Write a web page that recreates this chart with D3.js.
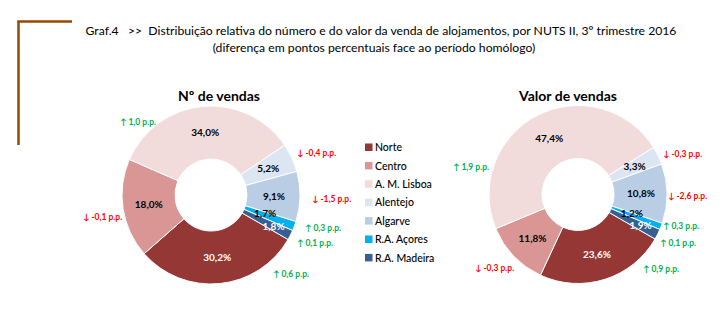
<!DOCTYPE html>
<html>
<head>
<meta charset="utf-8">
<script src="https://cdn.jsdelivr.net/npm/d3@7"></script>
<style>
  html, body { margin: 0; padding: 0; background: #fff; }
  svg { display: block; font-family: Lato, "Open Sans", sans-serif; }
  .pre { white-space: pre; }
</style>
</head>
<body>
<svg id="chart" width="726" height="322"></svg>
<script>
// ---- data ----
const categories = ["Norte", "Centro", "A. M. Lisboa", "Alentejo", "Algarve", "R.A. Açores", "R.A. Madeira"];
const numVendas = [30.2, 18.0, 34.0, 5.2, 9.1, 1.7, 1.8];
const valorVendas = [23.6, 11.8, 47.4, 3.3, 10.8, 1.2, 1.9];
const difNumVendas = [0.6, -0.1, 1.0, -0.4, -1.5, 0.3, 0.1];
const difValorVendas = [0.9, -0.3, 1.9, -0.3, -2.6, 0.3, 0.1];
const chartTitles = ["Nº de vendas", "Valor de vendas"];
const titleLines = [
  "Graf.4   >>  Distribuição relativa do número e do valor da venda de alojamentos, por NUTS II, 3º trimestre 2016",
  "(diferença em pontos percentuais face ao período homólogo)"
];

// ---- styles ----
const colors = ["#953735", "#D99694", "#F2DCDB", "#DCE6F2", "#B9CDE5", "#00B0F0", "#376092"];
const labelColors = ["#fff", "#000", "#000", "#000", "#000", "#000", "#fff"];
const upColor = "#00B050", downColor = "#FF0000";

const svg = d3.select("#chart");

// corner bracket
svg.append("path")
  .attr("d", "M18.5,145 L18.5,21.5 L72,21.5")
  .attr("fill", "none").attr("stroke", "#974706").attr("stroke-width", 2.5);

// main title
svg.append("text").attr("class", "pre").attr("x", 381).attr("y", 35)
  .attr("text-anchor", "middle").attr("font-size", 12.2).attr("fill", "#000")
  .text(titleLines[0]);
svg.append("text").attr("x", 374).attr("y", 52)
  .attr("text-anchor", "middle").attr("font-size", 12.2).attr("fill", "#000")
  .text(titleLines[1]);

const fmt = v => d3.format(".1f")(v).replace(".", ",").replace("\u2212", "-");
const rad = d => d * Math.PI / 180;

const outerR = 89, innerR = 36;
const pie = d3.pie().sort(null).value(d => d).startAngle(rad(120)).endAngle(rad(480));
const arc = d3.arc().innerRadius(innerR).outerRadius(outerR);

// annotation offsets (left x, middle y) relative to donut centre
const annotOffsets = [
  [[62, 79], [-128, 22], [-91, -73], [86, -42], [101, 4], [94, 33], [86, 48]],
  [[65, 75], [-103, 74], [-125, -27], [85, -40], [90, 2], [85, 32], [82, 49]]
];

function donut(cx, cy, values, diffs, title, k) {
  const g = svg.append("g").attr("transform", `translate(${cx},${cy})`);
  const arcs = pie(values);
  g.selectAll("path.slice").data(arcs).enter().append("path")
    .attr("class", "slice")
    .attr("d", arc)
    .attr("fill", (d, i) => colors[i])
    .attr("stroke", "#fff").attr("stroke-width", 1);

  // value labels
  g.selectAll("text.val").data(arcs).enter().append("text")
    .attr("class", "val")
    .attr("transform", (d, i) => {
      let a = (d.startAngle + d.endAngle) / 2;
      let r = 63;
      if (i === 5) { r = 57; a -= rad(2); }
      if (i === 6) { r = 70; }
      return `translate(${r * Math.sin(a)},${-r * Math.cos(a)})`;
    })
    .attr("text-anchor", "middle").attr("dy", "0.35em")
    .attr("font-size", 10).attr("font-weight", "bold")
    .attr("fill", (d, i) => labelColors[i])
    .text(d => fmt(d.data) + "%");

  // chart title
  g.append("text").attr("x", (k === 0 ? 8 : -10)).attr("y", -94)
    .attr("text-anchor", "middle").attr("font-size", 14).attr("font-weight", "bold")
    .text(title);

  // change annotations
  diffs.forEach((v, i) => {
    const [ox, oy] = annotOffsets[k][i];
    const up = v >= 0;
    g.append("text").attr("x", ox).attr("y", oy).attr("dy", "0.35em")
      .attr("font-size", 8.5).attr("font-weight", "bold")
      .attr("fill", up ? upColor : downColor)
      .text((up ? "↑ " : "↓ ") + fmt(v) + " p.p.");
  });
}

donut(211, 195, numVendas, difNumVendas, chartTitles[0], 0);
donut(578, 194.5, valorVendas, difValorVendas, chartTitles[1], 1);

// legend
const legend = svg.append("g").attr("transform", "translate(365,147.5)");
categories.forEach((c, i) => {
  const row = legend.append("g").attr("transform", `translate(0,${i * 18.4})`);
  row.append("rect").attr("x", 0).attr("y", -4).attr("width", 7.5).attr("height", 7.5).attr("fill", colors[i]);
  row.append("text").attr("x", 10).attr("y", 0).attr("dy", "0.35em")
    .attr("font-size", 10.5).attr("font-weight", 500).attr("fill", "#000").text(c);
});
</script>
</body>
</html>
